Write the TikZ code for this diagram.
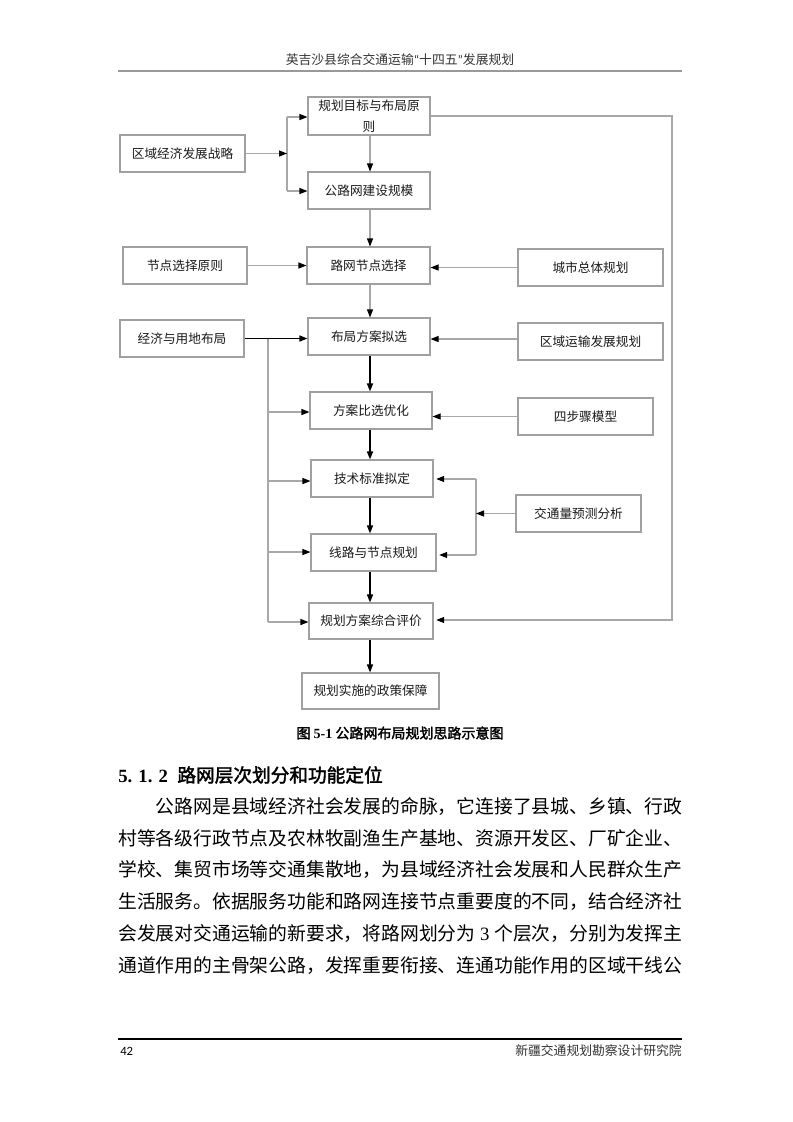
\documentclass[tikz,border=0pt]{standalone}
\usepackage{fontspec}
\setmainfont{Liberation Serif}
\newfontfamily\cjk{Noto Sans CJK SC}
\newfontfamily\cjkb{Noto Sans CJK SC}[FakeBold=2]
\newfontfamily\hdrlat{Carlito}
\usetikzlibrary{arrows.meta}
\definecolor{boxgray}{HTML}{A0A0A0}
\definecolor{linegray}{HTML}{A8A8A8}
\definecolor{txt}{HTML}{1A1A1A}
\definecolor{hdrtxt}{HTML}{333333}
\definecolor{hdrline}{HTML}{999999}
\begin{document}
\begin{tikzpicture}[x=0.75pt,y=-0.75pt,
  bx/.style={draw=boxgray, line width=0.8pt, inner sep=0pt,
    font=\cjk\fontsize{9.5}{16}\selectfont, text=txt},
  wh/.style 2 args={minimum width=#1*0.75pt, minimum height=#2*0.75pt},
  gline/.style={draw=linegray, line width=0.8pt},
  garr/.style={gline, -{Triangle[color=black,length=6pt,width=4.5pt]}},
  barr/.style={draw=black, line width=1.1pt, -{Triangle[length=6pt,width=4.5pt]}},
  bodyline/.style={anchor=west, inner sep=0pt, font=\cjk\fontsize{14.1}{16}\selectfont, text=black}]
\fill[white] (0,0) rectangle (793,1122);
\path[use as bounding box] (0,0) rectangle (793,1122);

% header
\node[font=\cjk\fontsize{9.6}{11}\selectfont, text=hdrtxt] (hdr) at (400,60) {英吉沙县综合交通运输{\hdrlat “}十四五{\hdrlat ”}发展规划};
\coordinate (hl1) at (118,71);
\coordinate (hl2) at (682,71);
\draw[draw=hdrline, line width=1.6pt] (hl1) -- (hl2);

% boxes
\node[bx, wh={122}{38}, align=center] (A) at (369,116) {规划目标与布局原\\则};
\node[bx, wh={125}{37}] (B) at (182.5,153.5) {区域经济发展战略};
\node[bx, wh={122}{37}] (C) at (369,190.5) {公路网建设规模};
\node[bx, wh={124}{37}] (D) at (185,265.5) {节点选择原则};
\node[bx, wh={123}{37}] (E) at (368.5,265.5) {路网节点选择};
\node[bx, wh={145}{37}] (F) at (590.5,267.5) {城市总体规划};
\node[bx, wh={124}{37}] (G) at (182,338.5) {经济与用地布局};
\node[bx, wh={122}{37}] (H) at (369,336.5) {布局方案拟选};
\node[bx, wh={145}{37}] (I) at (590.5,341.5) {区域运输发展规划};
\node[bx, wh={122}{37}] (J) at (371,410.5) {方案比选优化};
\node[bx, wh={135}{37}] (K) at (585.5,416.5) {四步骤模型};
\node[bx, wh={122}{37}] (L) at (372,478.5) {技术标准拟定};
\node[bx, wh={125}{37}] (M) at (578.5,513.5) {交通量预测分析};
\node[bx, wh={125}{37}] (N) at (373.5,552.5) {线路与节点规划};
\node[bx, wh={124}{36}] (O) at (371,621) {规划方案综合评价};
\node[bx, wh={137}{36}] (P) at (370.5,691) {规划实施的政策保障};

% main axis
\coordinate (ax) at (370,0);
\draw[garr] (A.south -| ax) -- (C.north -| ax);
\draw[garr] (C.south -| ax) -- (E.north -| ax);
\draw[garr] (E.south -| ax) -- (H.north -| ax);
\draw[barr] (H.south -| ax) -- (J.north -| ax);
\draw[barr] (J.south -| ax) -- (L.north -| ax);
\draw[barr] (L.south -| ax) -- (N.north -| ax);
\draw[barr] (N.south -| ax) -- (O.north -| ax);
\draw[barr] (O.south -| ax) -- (P.north -| ax);

% top junction
\coordinate (jtA) at (287,117);
\coordinate (jtC) at (287,191);
\draw[gline] (jtA) -- (jtC);
\draw[garr] (B.east) -- (B.east -| jtA);
\draw[garr] (jtA) -- (jtA -| A.west);
\draw[garr] (jtC) -- (jtC -| C.west);

% side inputs
\draw[garr] (D.east) -- (D.east -| E.west);
\draw[garr] (F.west) -- (F.west -| E.east);
\draw[barr] (G.east) -- (G.east -| H.west);
\coordinate (iy) at (0,339);
\draw[garr] (I.west |- iy) -- (H.east |- iy);
\draw[garr] (K.west) -- (K.west -| J.east);

% left bus
\coordinate (lb1) at (268,338.5);
\coordinate (lbJ) at (268,412);
\coordinate (lbL) at (268,481);
\coordinate (lbN) at (268,552);
\coordinate (lbO) at (268,622);
\draw[gline] (lb1) -- (lbO);
\draw[garr] (lbJ) -- (lbJ -| J.west);
\draw[garr] (lbL) -- (lbL -| L.west);
\draw[garr] (lbN) -- (lbN -| N.west);
\draw[garr] (lbO) -- (lbO -| O.west);

% right bus
\coordinate (rb1) at (476,479);
\coordinate (rb2) at (476,555);
\draw[gline] (rb1) -- (rb2);
\draw[garr, shorten >=2pt] (rb1) -- (rb1 -| L.east);
\draw[garr] (M.west) -- (M.west -| rb1);
\draw[garr, shorten >=2pt] (rb2) -- (rb2 -| N.east);

% feedback
\coordinate (fb1) at (672,116);
\coordinate (fb2) at (672,620);
\draw[garr, shorten >=2pt] (A.east |- fb1) -- (fb1) -- (fb2) -- (fb2 -| O.east);

% caption
\node[font=\cjkb\fontsize{10.5}{12}\selectfont] (cap) at (400,733) {图 {\rmfamily\bfseries 5-1} 公路网布局规划思路示意图};

% heading
\node[anchor=west, inner sep=0pt, font=\cjkb\fontsize{14}{16}\selectfont] (hd) at (118,775) {{\rmfamily\bfseries 5. 1. 2}\enspace 路网层次划分和功能定位};

% body
\node[bodyline] (l1) at (155.6,806) {公路网是县域经济社会发展的命脉，它连接了县城、乡镇、行政};
\node[bodyline] (l2) at (118,838) {村等各级行政节点及农林牧副渔生产基地、资源开发区、厂矿企业、};
\node[bodyline] (l3) at (118,870) {学校、集贸市场等交通集散地，为县域经济社会发展和人民群众生产};
\node[bodyline] (l4) at (118,902) {生活服务。依据服务功能和路网连接节点重要度的不同，结合经济社};
\node[bodyline] (l5) at (118,934) {会发展对交通运输的新要求，将路网划分为{\rmfamily\ 3\ }个层次，分别为发挥主};
\node[bodyline] (l6) at (118,966) {通道作用的主骨架公路，发挥重要衔接、连通功能作用的区域干线公};

% footer
\coordinate (fl1) at (118,1039);
\coordinate (fl2) at (682,1039);
\draw[black, line width=0.8pt] (fl1) -- (fl2);
\node[anchor=west, inner sep=0pt, font=\hdrlat\fontsize{9.5}{11}\selectfont] (pg) at (120,1051) {42};
\node[anchor=east, inner sep=0pt, font=\cjk\fontsize{9.6}{11}\selectfont, text=hdrtxt] (inst) at (682,1051) {新疆交通规划勘察设计研究院};
\end{tikzpicture}
\end{document}
